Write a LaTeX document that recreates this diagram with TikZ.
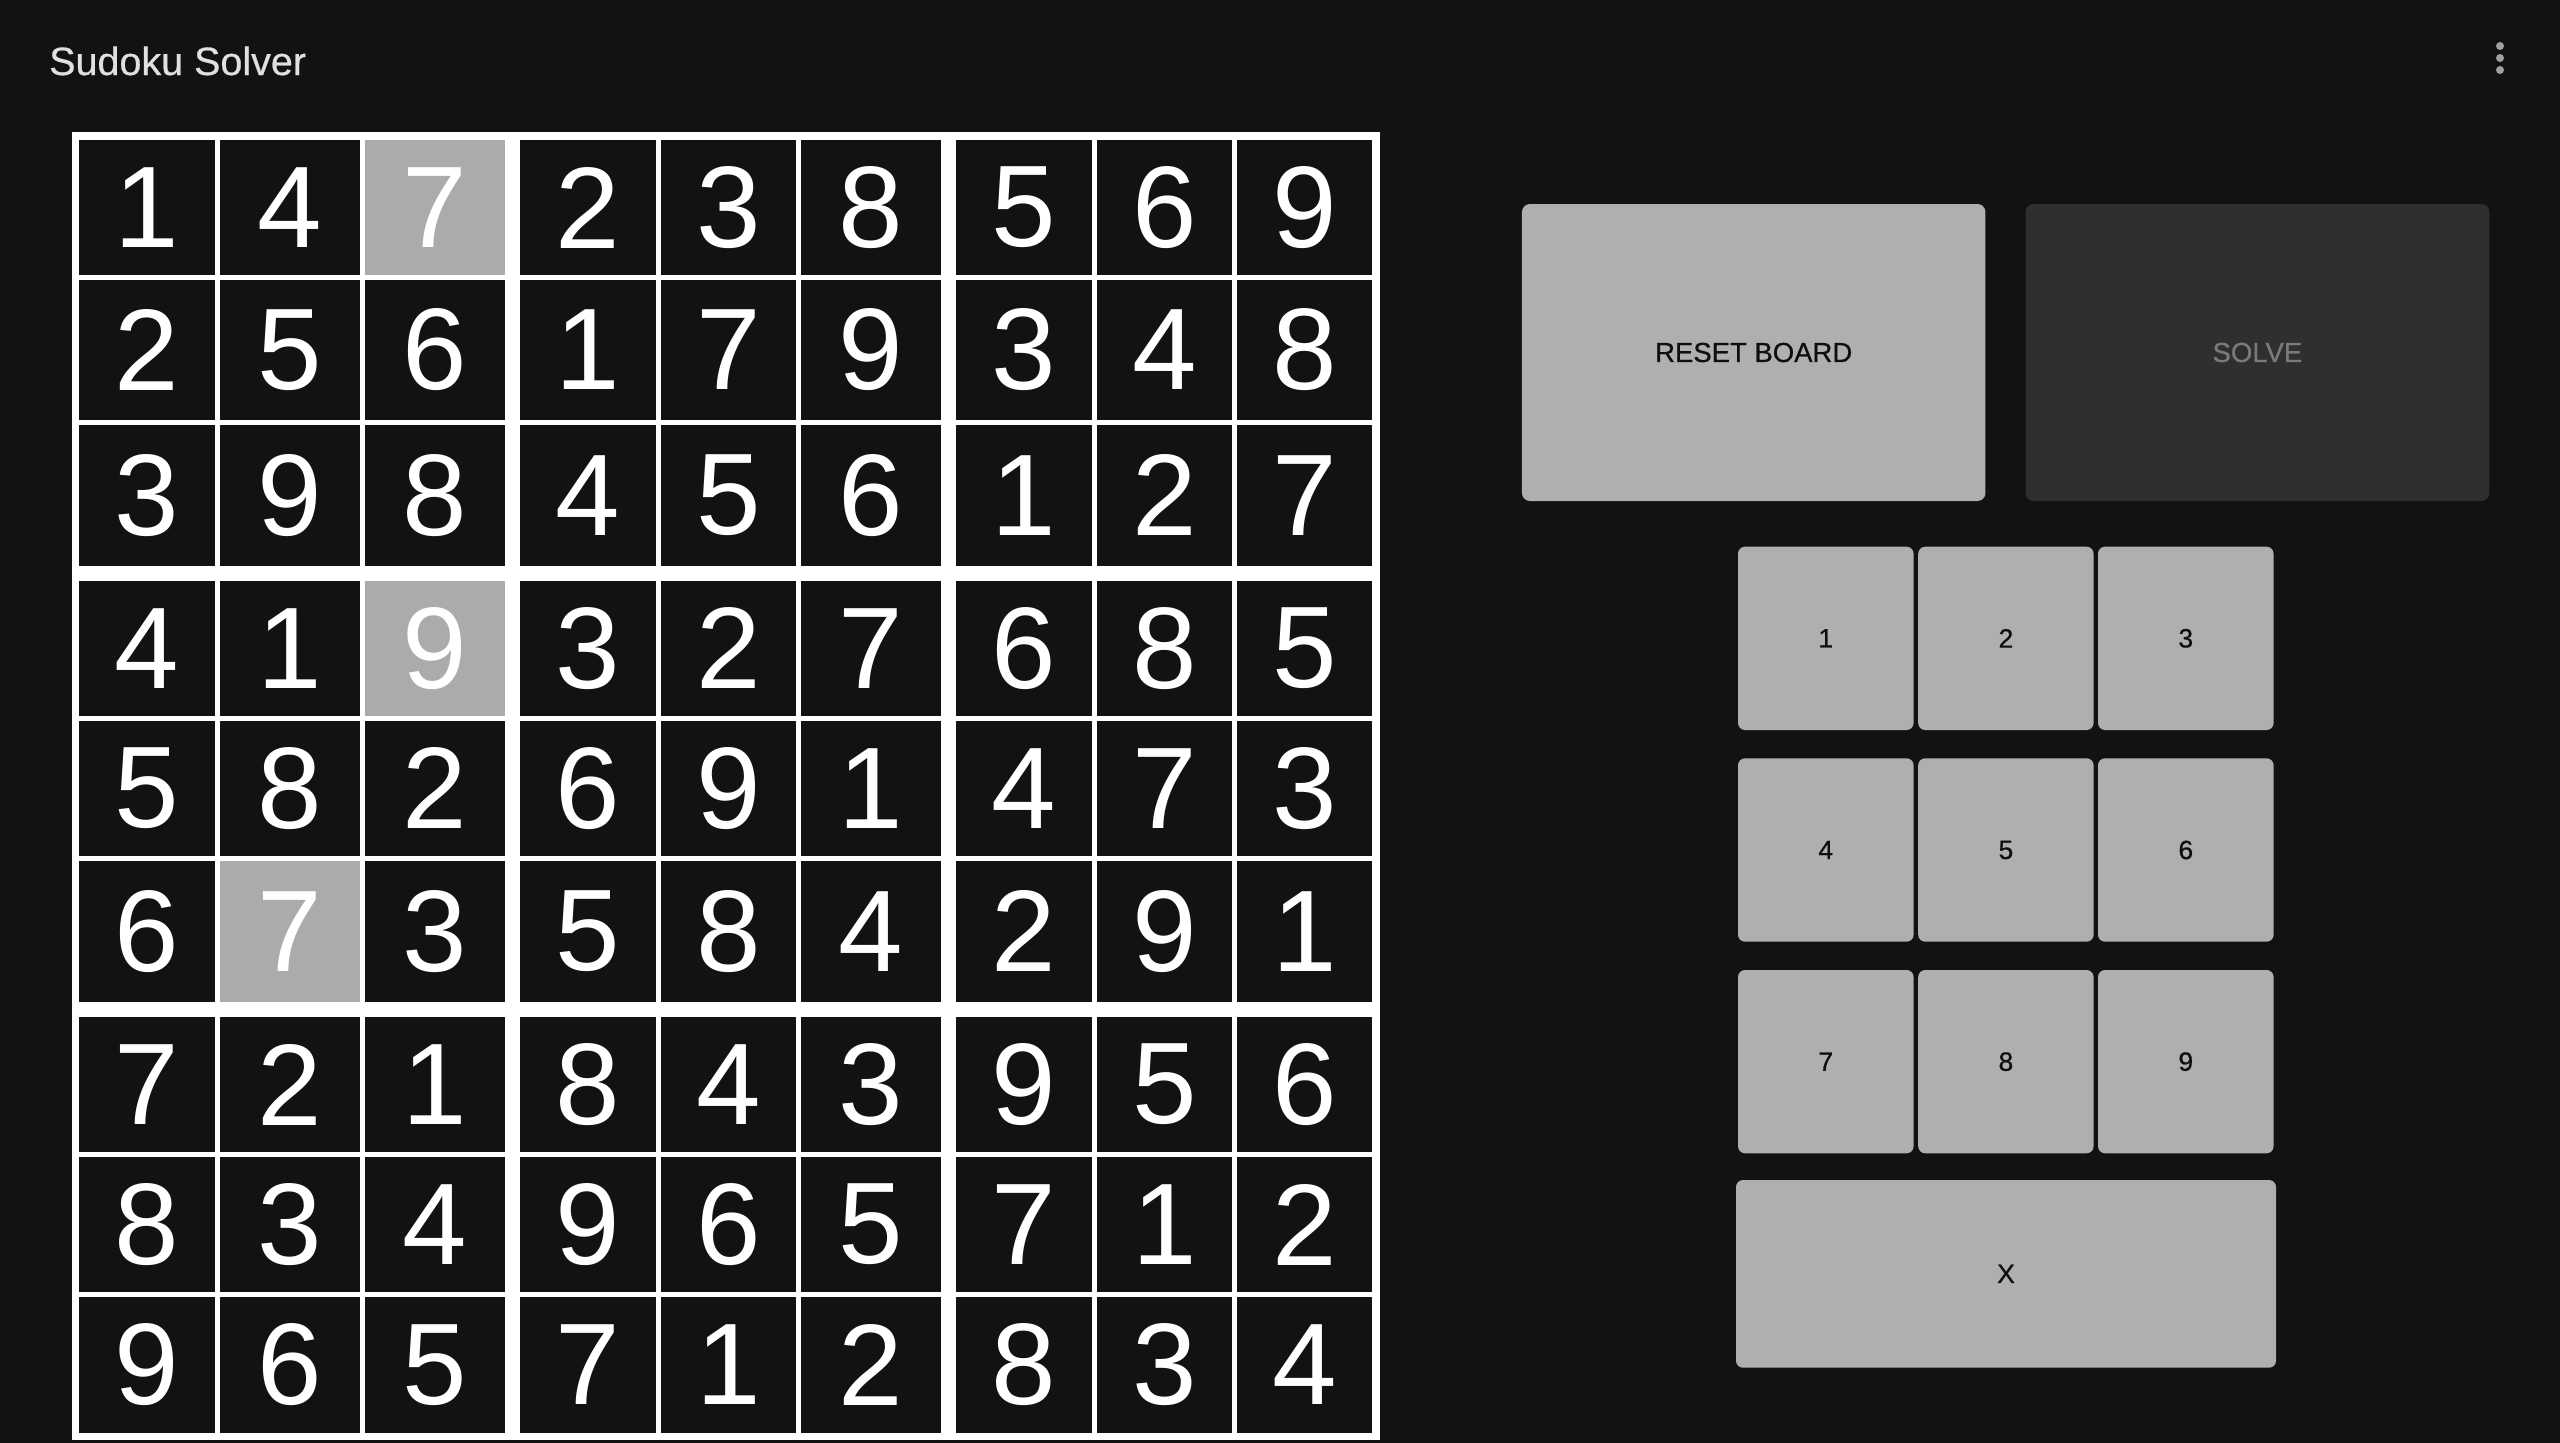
\documentclass[tikz,border=0pt]{standalone}
\usepackage{fontspec}
\setmainfont{Liberation Sans}
\newfontfamily\medfont[FakeBold=0.6]{Liberation Sans}
\definecolor{bg}{HTML}{121212}
\definecolor{hl}{HTML}{ABABAB}
\definecolor{btn}{HTML}{AFAFAF}
\definecolor{btndark}{HTML}{2F2F2F}
\definecolor{titlecol}{HTML}{E0E0E0}
\definecolor{dotcol}{HTML}{A0A0A0}
\definecolor{solvetxt}{HTML}{7A7A7A}
\definecolor{keytxt}{HTML}{0E0E0E}
\begin{document}
\begin{tikzpicture}[x=1pt,y=-1pt,
  cellbox/.style={inner sep=0pt, outer sep=0pt, text=white, font=\fontsize{116}{116}\selectfont},
  keybtn/.style={fill=btn, rounded corners=7pt, inner sep=0pt, outer sep=0pt, text=keytxt, font=\medfont\fontsize{26.5}{27}\selectfont},
  bigbtn/.style={rounded corners=8pt, inner sep=0pt, outer sep=0pt, font=\medfont\fontsize{27.5}{28}\selectfont},
  dotmark/.style={circle, fill=dotcol, minimum size=8pt, inner sep=0pt},
]
\fill[bg] (0,0) rectangle (2560,1443);
\useasboundingbox (0,0) rectangle (2560,1443);

% title and menu
\node[anchor=base west, inner sep=0pt, text=titlecol, font=\medfont\fontsize{39.5}{41}\selectfont] (title) at (49,75) {Sudoku Solver};
\node[dotmark] (dot1) at (2500,46) {};
\node[dotmark] (dot2) at (2500,58) {};
\node[dotmark] (dot3) at (2500,70) {};

% board
\node[fill=white, minimum width=1308pt, minimum height=1308pt, inner sep=0pt, outer sep=0pt] (board) at (726,786) {};
\foreach \r/\yt/\yb/\ds in {
  1/140/275/{1,4,7,2,3,8,5,6,9},
  2/280/420/{2,5,6,1,7,9,3,4,8},
  3/425/565.7/{3,9,8,4,5,6,1,2,7},
  4/581/715.7/{4,1,9,3,2,7,6,8,5},
  5/721/855.7/{5,8,2,6,9,1,4,7,3},
  6/861/1001.7/{6,7,3,5,8,4,2,9,1},
  7/1017/1152/{7,2,1,8,4,3,9,5,6},
  8/1157/1292/{8,3,4,9,6,5,7,1,2},
  9/1297/1432.7/{9,6,5,7,1,2,8,3,4}}{
  \foreach \d [count=\c] in \ds {
    \pgfmathsetmacro\xl{{79,220,365,520,661,801,956,1097,1237}[\c-1]}
    \pgfmathsetmacro\xr{{215,360,505,656,796,941,1092,1232,1372}[\c-1]}
    \pgfmathsetmacro\cw{\xr-\xl}
    \pgfmathsetmacro\ch{\yb-\yt}
    \pgfmathsetmacro\cx{(\xl+\xr)/2}
    \pgfmathsetmacro\cy{(\yt+\yb)/2}
    \pgfmathtruncatemacro\code{\r*10+\c}
    \def\cf{bg}
    \ifnum\code=13 \def\cf{hl}\fi
    \ifnum\code=43 \def\cf{hl}\fi
    \ifnum\code=62 \def\cf{hl}\fi
    \node[cellbox, fill=\cf, minimum width=\cw pt, minimum height=\ch pt] (cell-\r-\c) at (\cx,\cy) {\d};
  }
}

% big buttons
\node[bigbtn, fill=btn, text=keytxt, minimum width=463.5pt, minimum height=297pt] (reset) at (1753.7,352.5) {RESET BOARD};
\node[bigbtn, fill=btndark, text=solvetxt, minimum width=463.7pt, minimum height=297pt] (solve) at (2257.4,352.5) {SOLVE};

% keypad
\foreach \k [count=\i from 0] in {1,...,9} {
  \pgfmathtruncatemacro\kc{mod(\i,3)}
  \pgfmathtruncatemacro\kr{div(\i,3)}
  \pgfmathsetmacro\kxl{{1738,1918.2,2098}[\kc]}
  \pgfmathsetmacro\kxr{{1913.6,2093.6,2273.6}[\kc]}
  \pgfmathsetmacro\kyt{{546.7,758.3,970}[\kr]}
  \pgfmathsetmacro\kyb{{730,941.7,1153.3}[\kr]}
  \pgfmathsetmacro\kw{\kxr-\kxl}
  \pgfmathsetmacro\kh{\kyb-\kyt}
  \pgfmathsetmacro\kx{(\kxl+\kxr)/2}
  \pgfmathsetmacro\ky{(\kyt+\kyb)/2}
  \node[keybtn, minimum width=\kw pt, minimum height=\kh pt] (key-\k) at (\kx,\ky) {\k};
}
\node[keybtn, minimum width=540pt, minimum height=187.7pt] (key-x) at (2006,1273.85) {X};
\end{tikzpicture}
\end{document}
